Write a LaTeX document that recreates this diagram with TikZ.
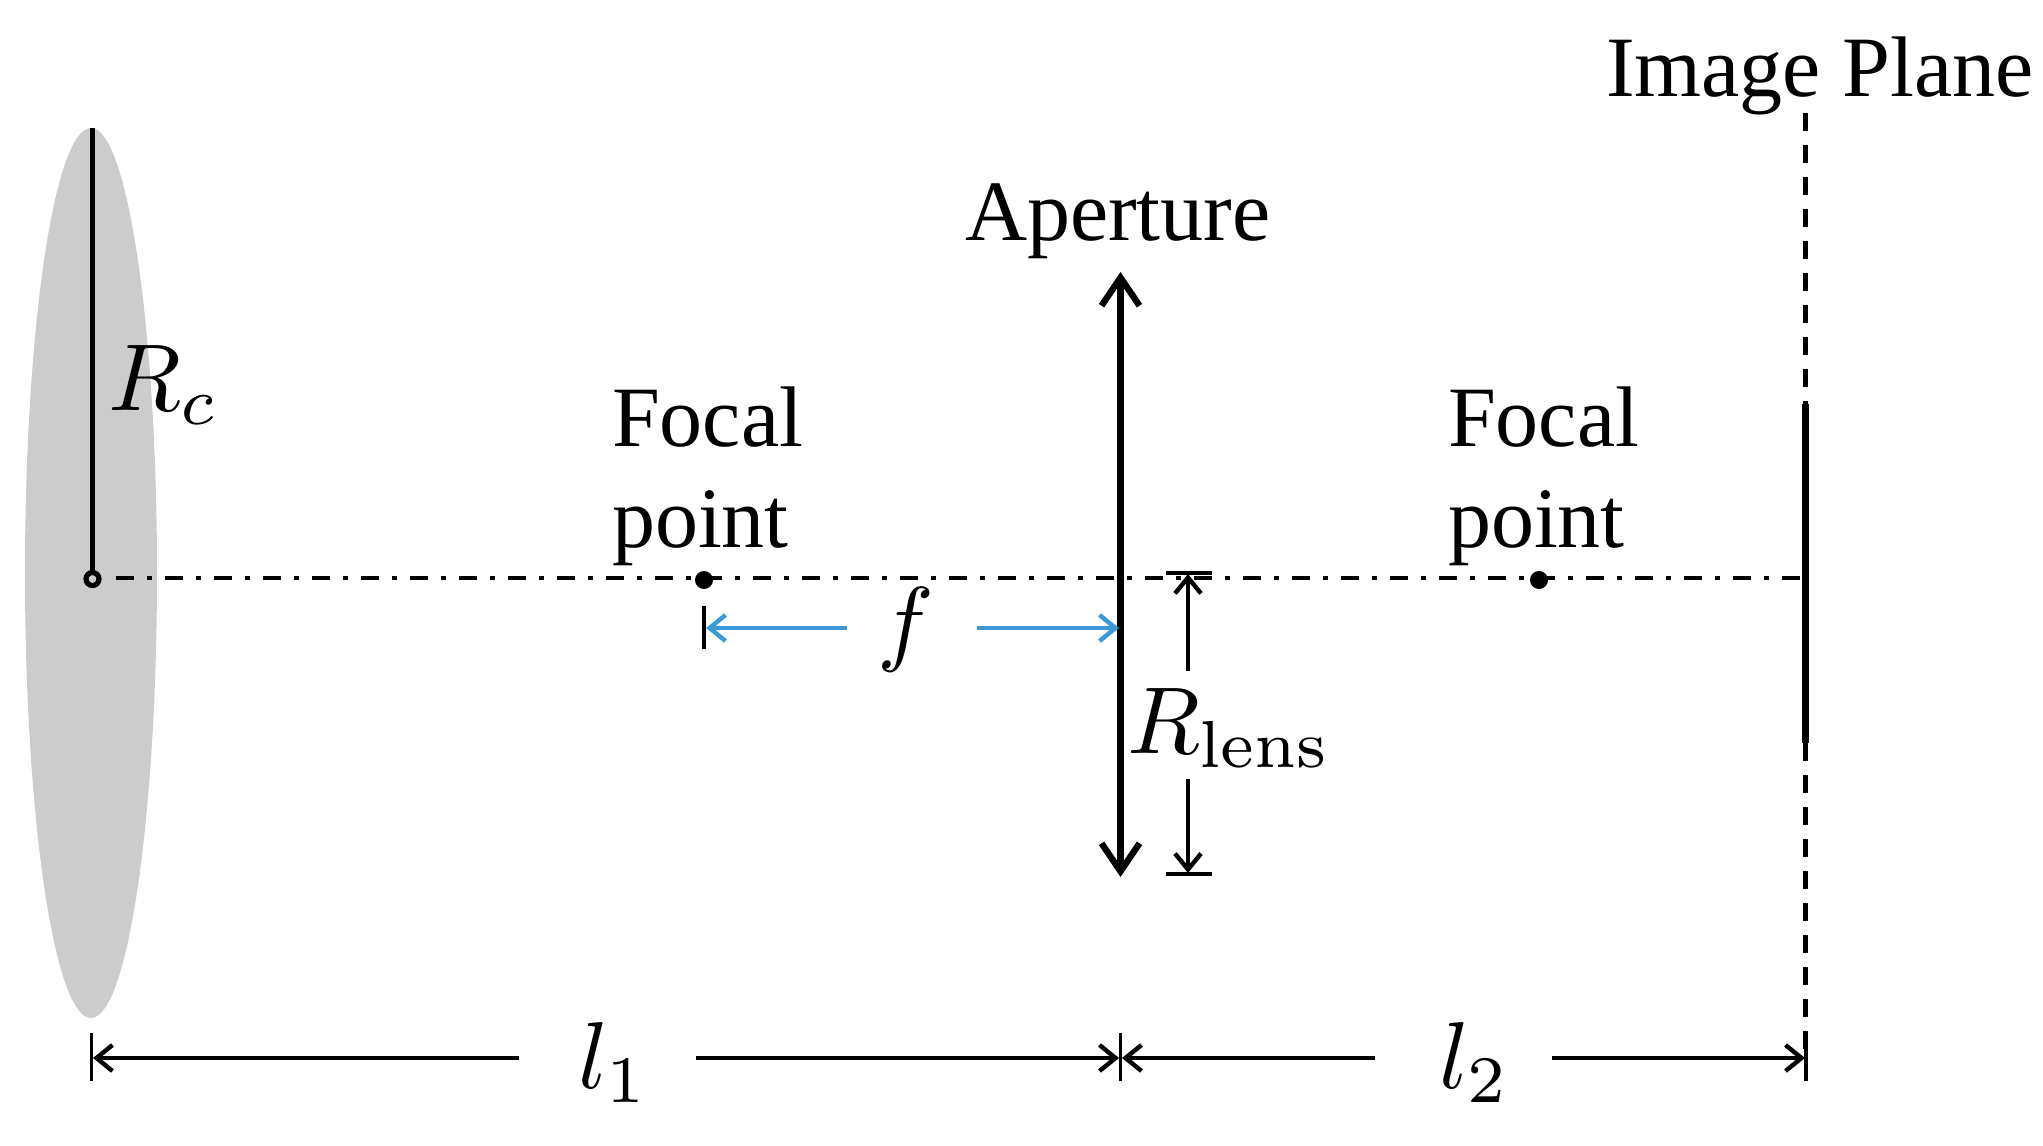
\documentclass[tikz,border=0pt]{standalone}
\usepackage[no-math]{fontspec}
\setmainfont{Liberation Serif}
\usetikzlibrary{arrows.meta,shapes.geometric}
\definecolor{lensgray}{HTML}{CCCCCC}
\definecolor{fblue}{HTML}{3A9AD6}
\tikzset{
  x=0.5pt,y=-0.5pt,
  lbl/.style={inner sep=0pt,outer sep=0pt,anchor=base west,font=\fontsize{43}{51}\selectfont,align=left},
  mathlbl/.style={inner sep=0pt,outer sep=0pt,anchor=base west,scale=4.75},
  barb/.style={-{Straight Barb[length=8pt,width=13pt,line width=2.2pt]}},
  dim/.style={line width=1.7pt,barb},
  tickmark/.style={line width=1.7pt},
  axisline/.style={line width=2.3pt,dash pattern=on 9pt off 6.5pt on 2.5pt off 6.5pt},
  planedash/.style={line width=2.1pt,dash pattern=on 9pt off 7pt},
  fdim/.style={line width=1.6pt,fblue,-{Straight Barb[length=8pt,width=13pt,line width=2.2pt]}},
  focus/.style={circle,fill=black,inner sep=0pt,minimum size=9pt},
}
\begin{document}
\begin{tikzpicture}
\useasboundingbox (0,0) rectangle (2043,1145);
% source disc
\node[ellipse,fill=lensgray,minimum width=66pt,minimum height=445pt,inner sep=0pt] (disc) at (91,573) {};
% key coordinates
\coordinate (rtop) at (92.5,128);
\node[circle,draw=black,line width=2.6pt,fill=lensgray,inner sep=0pt,minimum size=6.5pt] (c0) at (92.5,579) {};
\coordinate (axs) at (116,578);
\coordinate (axe) at (1806,578);
\coordinate (ltop) at (1120.5,272);
\coordinate (lbot) at (1120.5,877);
\coordinate (ptop) at (1805.5,113);
\coordinate (pbot) at (1805.5,1058);
\coordinate (pa) at (1805.5,404);
\coordinate (pb) at (1805.5,743);
% Rc
\draw[line width=2.3pt] (rtop) -- (c0.north);
% axis
\draw[axisline] (axs) -- (axe);
% image plane
\draw[planedash] (ptop) -- (pa);
\draw[planedash] (pb) -- (pbot);
\draw[line width=3.6pt] (pa) -- (pb);
% aperture
\draw[line width=3.2pt,{Straight Barb[length=14pt,width=19pt,line width=3.2pt]}-{Straight Barb[length=14pt,width=19pt,line width=3.2pt]}] (ltop) -- (lbot);
% focal points
\node[focus] (fp1) at (704,580) {};
\node[focus] (fp2) at (1539,580) {};
% f dimension
\coordinate (ft1) at (704,606);
\coordinate (ft2) at (704,649);
\draw[tickmark] (ft1) -- (ft2);
\coordinate (fl) at (706,628);
\coordinate (fls) at (847,628);
\coordinate (frs) at (977,628);
\coordinate (fr) at (1119,628);
\draw[fdim] (fls) -- (fl);
\draw[fdim] (frs) -- (fr);
% R lens dimension
\coordinate (rt1) at (1166,573);
\coordinate (rt2) at (1212,573);
\coordinate (rb1) at (1166,874);
\coordinate (rb2) at (1212,874);
\coordinate (rt) at (1188,574);
\coordinate (rts) at (1188,671);
\coordinate (rbs) at (1188,779);
\coordinate (rb) at (1188,873);
\draw[line width=2pt] (rt1) -- (rt2);
\draw[line width=2pt] (rb1) -- (rb2);
\draw[dim] (rts) -- (rt);
\draw[dim] (rbs) -- (rb);
% bottom dimensions
\coordinate (t1a) at (91.5,1033);
\coordinate (t1b) at (91.5,1081);
\coordinate (t2a) at (1120.5,1033);
\coordinate (t2b) at (1120.5,1081);
\coordinate (t3a) at (1806,1033);
\coordinate (t3b) at (1806,1081);
\draw[tickmark] (t1a) -- (t1b);
\draw[tickmark] (t2a) -- (t2b);
\draw[tickmark] (t3a) -- (t3b);
\coordinate (d1) at (93,1058);
\coordinate (d1s) at (519,1058);
\coordinate (d2s) at (696,1058);
\coordinate (d2) at (1119,1058);
\coordinate (d3) at (1122,1058);
\coordinate (d3s) at (1375,1058);
\coordinate (d4s) at (1552,1058);
\coordinate (d4) at (1805,1058);
\draw[dim] (d1s) -- (d1);
\draw[dim] (d2s) -- (d2);
\draw[dim] (d3s) -- (d3);
\draw[dim] (d4s) -- (d4);
% labels
\node[lbl] (ip) at (1606,97) {Image Plane};
\node[lbl] (ap) at (965,240) {Aperture};
\node[lbl] (fo1) at (612,446) {Focal};
\node[lbl] (po1) at (612,547) {point};
\node[lbl] (fo2) at (1448,446) {Focal};
\node[lbl] (po2) at (1448,547) {point};
\node[mathlbl] (rc) at (108,410) {$R_c$};
\node[mathlbl] (rl) at (1127,753) {$R_{\mathrm{lens}}$};
\node[mathlbl] (ff) at (877,653) {$f$};
\node[mathlbl] (l1) at (578,1088) {$l_1$};
\node[mathlbl] (l2) at (1439,1088) {$l_2$};
\end{tikzpicture}
\end{document}
